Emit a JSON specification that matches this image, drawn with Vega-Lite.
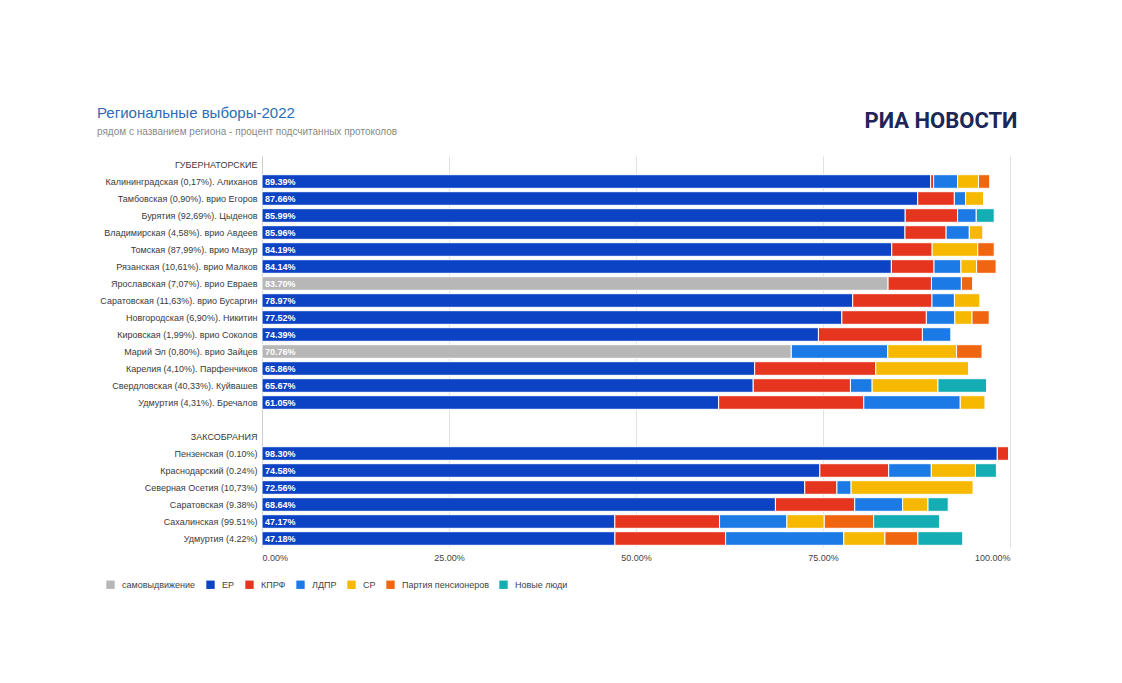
{
  "$schema": "https://vega.github.io/schema/vega-lite/v6.json",
  "width": 748,
  "height": 391,
  "autosize": {"type": "none"},
  "padding": {"left": 262, "top": 156, "right": 112, "bottom": 136},
  "background": "white",
  "config": {"font": "Liberation Sans", "view": {"stroke": null}},
  "title": {
    "text": "Региональные выборы-2022",
    "subtitle": "рядом с названием региона - процент подсчитанных протоколов",
    "anchor": "start",
    "frame": "group",
    "dx": -165,
    "dy": 32,
    "fontSize": 15,
    "fontWeight": "normal",
    "color": "#2d6cb5",
    "subtitleFontSize": 10,
    "subtitleColor": "#8a8a8a",
    "subtitlePadding": 6
  },
  "data": {"values": [
    {"r": "Калининградская (0,17%). Алиханов", "p": "ЕР", "v": 89.39},
    {"r": "Калининградская (0,17%). Алиханов", "p": "КПРФ", "v": 0.4},
    {"r": "Калининградская (0,17%). Алиханов", "p": "ЛДПР", "v": 3.2},
    {"r": "Калининградская (0,17%). Алиханов", "p": "СР", "v": 2.8},
    {"r": "Калининградская (0,17%). Алиханов", "p": "Партия пенсионеров", "v": 1.5},
    {"r": "Тамбовская (0,90%). врио Егоров", "p": "ЕР", "v": 87.66},
    {"r": "Тамбовская (0,90%). врио Егоров", "p": "КПРФ", "v": 4.9},
    {"r": "Тамбовская (0,90%). врио Егоров", "p": "ЛДПР", "v": 1.5},
    {"r": "Тамбовская (0,90%). врио Егоров", "p": "СР", "v": 2.4},
    {"r": "Бурятия (92,69%). Цыденов", "p": "ЕР", "v": 85.99},
    {"r": "Бурятия (92,69%). Цыденов", "p": "КПРФ", "v": 7.0},
    {"r": "Бурятия (92,69%). Цыденов", "p": "ЛДПР", "v": 2.5},
    {"r": "Бурятия (92,69%). Цыденов", "p": "Новые люди", "v": 2.4},
    {"r": "Владимирская (4,58%). врио Авдеев", "p": "ЕР", "v": 85.96},
    {"r": "Владимирская (4,58%). врио Авдеев", "p": "КПРФ", "v": 5.5},
    {"r": "Владимирская (4,58%). врио Авдеев", "p": "ЛДПР", "v": 3.1},
    {"r": "Владимирская (4,58%). врио Авдеев", "p": "СР", "v": 1.8},
    {"r": "Томская (87,99%). врио Мазур", "p": "ЕР", "v": 84.19},
    {"r": "Томская (87,99%). врио Мазур", "p": "КПРФ", "v": 5.4},
    {"r": "Томская (87,99%). врио Мазур", "p": "СР", "v": 6.1},
    {"r": "Томская (87,99%). врио Мазур", "p": "Партия пенсионеров", "v": 2.2},
    {"r": "Рязанская (10,61%). врио Малков", "p": "ЕР", "v": 84.14},
    {"r": "Рязанская (10,61%). врио Малков", "p": "КПРФ", "v": 5.7},
    {"r": "Рязанская (10,61%). врио Малков", "p": "ЛДПР", "v": 3.6},
    {"r": "Рязанская (10,61%). врио Малков", "p": "СР", "v": 2.1},
    {"r": "Рязанская (10,61%). врио Малков", "p": "Партия пенсионеров", "v": 2.6},
    {"r": "Ярославская (7,07%). врио Евраев", "p": "самовыдвижение", "v": 83.70},
    {"r": "Ярославская (7,07%). врио Евраев", "p": "КПРФ", "v": 5.8},
    {"r": "Ярославская (7,07%). врио Евраев", "p": "ЛДПР", "v": 4.0},
    {"r": "Ярославская (7,07%). врио Евраев", "p": "Партия пенсионеров", "v": 1.5},
    {"r": "Саратовская (11,63%). врио Бусаргин", "p": "ЕР", "v": 78.97},
    {"r": "Саратовская (11,63%). врио Бусаргин", "p": "КПРФ", "v": 10.6},
    {"r": "Саратовская (11,63%). врио Бусаргин", "p": "ЛДПР", "v": 3.0},
    {"r": "Саратовская (11,63%). врио Бусаргин", "p": "СР", "v": 3.4},
    {"r": "Новгородская (6,90%). Никитин", "p": "ЕР", "v": 77.52},
    {"r": "Новгородская (6,90%). Никитин", "p": "КПРФ", "v": 11.3},
    {"r": "Новгородская (6,90%). Никитин", "p": "ЛДПР", "v": 3.8},
    {"r": "Новгородская (6,90%). Никитин", "p": "СР", "v": 2.3},
    {"r": "Новгородская (6,90%). Никитин", "p": "Партия пенсионеров", "v": 2.3},
    {"r": "Кировская (1,99%). врио Соколов", "p": "ЕР", "v": 74.39},
    {"r": "Кировская (1,99%). врио Соколов", "p": "КПРФ", "v": 13.9},
    {"r": "Кировская (1,99%). врио Соколов", "p": "ЛДПР", "v": 3.8},
    {"r": "Марий Эл (0,80%). врио Зайцев", "p": "самовыдвижение", "v": 70.76},
    {"r": "Марий Эл (0,80%). врио Зайцев", "p": "ЛДПР", "v": 12.9},
    {"r": "Марий Эл (0,80%). врио Зайцев", "p": "СР", "v": 9.2},
    {"r": "Марий Эл (0,80%). врио Зайцев", "p": "Партия пенсионеров", "v": 3.4},
    {"r": "Карелия (4,10%). Парфенчиков", "p": "ЕР", "v": 65.86},
    {"r": "Карелия (4,10%). Парфенчиков", "p": "КПРФ", "v": 16.2},
    {"r": "Карелия (4,10%). Парфенчиков", "p": "СР", "v": 12.4},
    {"r": "Свердловская (40,33%). Куйвашев", "p": "ЕР", "v": 65.67},
    {"r": "Свердловская (40,33%). Куйвашев", "p": "КПРФ", "v": 13.0},
    {"r": "Свердловская (40,33%). Куйвашев", "p": "ЛДПР", "v": 2.9},
    {"r": "Свердловская (40,33%). Куйвашев", "p": "СР", "v": 8.8},
    {"r": "Свердловская (40,33%). Куйвашев", "p": "Новые люди", "v": 6.5},
    {"r": "Удмуртия (4,31%). Бречалов", "p": "ЕР", "v": 61.05},
    {"r": "Удмуртия (4,31%). Бречалов", "p": "КПРФ", "v": 19.4},
    {"r": "Удмуртия (4,31%). Бречалов", "p": "ЛДПР", "v": 12.9},
    {"r": "Удмуртия (4,31%). Бречалов", "p": "СР", "v": 3.3},
    {"r": "Пензенская (0.10%)", "p": "ЕР", "v": 98.30},
    {"r": "Пензенская (0.10%)", "p": "КПРФ", "v": 1.5},
    {"r": "Краснодарский (0.24%)", "p": "ЕР", "v": 74.58},
    {"r": "Краснодарский (0.24%)", "p": "КПРФ", "v": 9.2},
    {"r": "Краснодарский (0.24%)", "p": "ЛДПР", "v": 5.7},
    {"r": "Краснодарский (0.24%)", "p": "СР", "v": 5.9},
    {"r": "Краснодарский (0.24%)", "p": "Новые люди", "v": 2.8},
    {"r": "Северная Осетия (10,73%)", "p": "ЕР", "v": 72.56},
    {"r": "Северная Осетия (10,73%)", "p": "КПРФ", "v": 4.3},
    {"r": "Северная Осетия (10,73%)", "p": "ЛДПР", "v": 1.9},
    {"r": "Северная Осетия (10,73%)", "p": "СР", "v": 16.3},
    {"r": "Саратовская (9.38%)", "p": "ЕР", "v": 68.64},
    {"r": "Саратовская (9.38%)", "p": "КПРФ", "v": 10.6},
    {"r": "Саратовская (9.38%)", "p": "ЛДПР", "v": 6.4},
    {"r": "Саратовская (9.38%)", "p": "СР", "v": 3.4},
    {"r": "Саратовская (9.38%)", "p": "Новые люди", "v": 2.7},
    {"r": "Сахалинская (99.51%)", "p": "ЕР", "v": 47.17},
    {"r": "Сахалинская (99.51%)", "p": "КПРФ", "v": 14.0},
    {"r": "Сахалинская (99.51%)", "p": "ЛДПР", "v": 9.0},
    {"r": "Сахалинская (99.51%)", "p": "СР", "v": 5.0},
    {"r": "Сахалинская (99.51%)", "p": "Партия пенсионеров", "v": 6.6},
    {"r": "Сахалинская (99.51%)", "p": "Новые люди", "v": 8.8},
    {"r": "Удмуртия (4.22%)", "p": "ЕР", "v": 47.18},
    {"r": "Удмуртия (4.22%)", "p": "КПРФ", "v": 14.8},
    {"r": "Удмуртия (4.22%)", "p": "ЛДПР", "v": 15.8},
    {"r": "Удмуртия (4.22%)", "p": "СР", "v": 5.5},
    {"r": "Удмуртия (4.22%)", "p": "Партия пенсионеров", "v": 4.4},
    {"r": "Удмуртия (4.22%)", "p": "Новые люди", "v": 6.0}
  ]},
  "transform": [
    {"calculate": "indexof(['самовыдвижение','ЕР','КПРФ','ЛДПР','СР','Партия пенсионеров','Новые люди'], datum.p)", "as": "ord"},
    {"calculate": "format(datum.v, '.2f') + '%'", "as": "lab"}
  ],
  "encoding": {
    "y": {
      "field": "r",
      "type": "nominal",
      "scale": {
        "domain": [
          "ГУБЕРНАТОРСКИЕ",
          "Калининградская (0,17%). Алиханов",
          "Тамбовская (0,90%). врио Егоров",
          "Бурятия (92,69%). Цыденов",
          "Владимирская (4,58%). врио Авдеев",
          "Томская (87,99%). врио Мазур",
          "Рязанская (10,61%). врио Малков",
          "Ярославская (7,07%). врио Евраев",
          "Саратовская (11,63%). врио Бусаргин",
          "Новгородская (6,90%). Никитин",
          "Кировская (1,99%). врио Соколов",
          "Марий Эл (0,80%). врио Зайцев",
          "Карелия (4,10%). Парфенчиков",
          "Свердловская (40,33%). Куйвашев",
          "Удмуртия (4,31%). Бречалов",
          " ",
          "ЗАКСОБРАНИЯ",
          "Пензенская (0.10%)",
          "Краснодарский (0.24%)",
          "Северная Осетия (10,73%)",
          "Саратовская (9.38%)",
          "Сахалинская (99.51%)",
          "Удмуртия (4.22%)"
        ],
        "paddingInner": 0.2,
        "paddingOuter": 0.1
      },
      "axis": {
        "title": null,
        "ticks": false,
        "labelFontSize": 9,
        "labelColor": "#3a3a3a",
        "labelPadding": 5,
        "labelLimit": 300,
        "domainColor": "#cfcfcf"
      }
    }
  },
  "layer": [
    {
      "mark": {"type": "bar", "stroke": "white", "strokeWidth": 1},
      "encoding": {
        "x": {
          "field": "v",
          "type": "quantitative",
          "stack": "zero",
          "scale": {"domain": [0, 100], "nice": false},
          "axis": {
            "title": null,
            "values": [0, 25, 50, 75, 100],
            "labelExpr": "format(datum.value, '.2f') + '%'",
            "ticks": false,
            "domain": false,
            "grid": true,
            "gridColor": "#e2e2e2",
            "labelFontSize": 9,
            "labelColor": "#444444",
            "labelPadding": 6
          }
        },
        "color": {
          "field": "p",
          "type": "nominal",
          "scale": {
            "domain": ["самовыдвижение", "ЕР", "КПРФ", "ЛДПР", "СР", "Партия пенсионеров", "Новые люди"],
            "range": ["#b7b7b7", "#0b43c4", "#e5351f", "#1c7ae6", "#f7b801", "#f0650f", "#14adb3"]
          },
          "legend": {
            "title": null,
            "orient": "none",
            "legendX": -156,
            "legendY": 424,
            "direction": "horizontal",
            "symbolType": "square",
            "symbolSize": 70,
            "symbolStrokeWidth": 0,
            "labelFontSize": 9,
            "labelColor": "#444444",
            "labelOffset": 7,
            "columnPadding": 10
          }
        },
        "order": {"field": "ord"}
      }
    },
    {
      "transform": [{"filter": "datum.ord <= 1"}],
      "mark": {"type": "text", "align": "left", "dx": 3, "color": "white", "fontSize": 9, "fontWeight": "bold"},
      "encoding": {
        "x": {
          "datum": 0,
          "axis": {
            "orient": "top",
            "title": "РИА НОВОСТИ",
            "labels": false,
            "ticks": false,
            "domain": false,
            "grid": false,
            "titleAnchor": "end",
            "titleX": 755,
            "titleFont": "Roboto",
            "titleFontSize": 22,
            "titleFontWeight": "bold",
            "titleColor": "#1b2757",
            "titlePadding": 24
          }
        },
        "text": {"field": "lab"}
      }
    }
  ],
  "resolve": {"axis": {"x": "independent"}}
}
